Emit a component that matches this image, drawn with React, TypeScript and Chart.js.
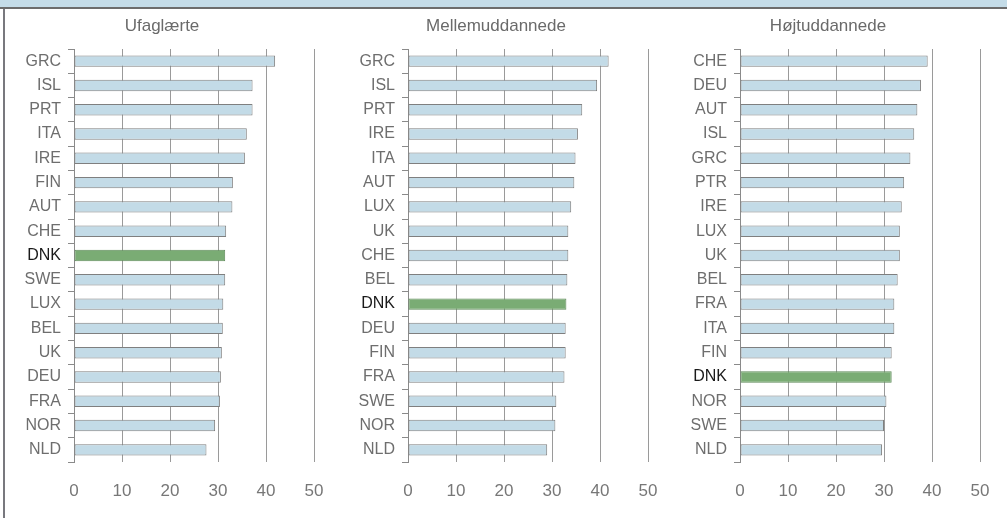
import React, { useEffect, useRef } from "react";
import { Chart, registerables } from "chart.js";

Chart.register(...registerables);

const titles = ["Ufaglærte", "Mellemuddannede", "Højtuddannede"];

const catsUfaglaerte = ["GRC", "ISL", "PRT", "ITA", "IRE", "FIN", "AUT", "CHE", "DNK", "SWE", "LUX", "BEL", "UK", "DEU", "FRA", "NOR", "NLD"];
const valsUfaglaerte = [41.9, 37.2, 37.2, 36.0, 35.6, 33.1, 33.0, 31.7, 31.5, 31.5, 31.1, 31.0, 30.8, 30.6, 30.4, 29.4, 27.6];

const catsMellem = ["GRC", "ISL", "PRT", "IRE", "ITA", "AUT", "LUX", "UK", "CHE", "BEL", "DNK", "DEU", "FIN", "FRA", "SWE", "NOR", "NLD"];
const valsMellem = [41.8, 39.4, 36.3, 35.4, 34.9, 34.65, 34.0, 33.4, 33.4, 33.2, 33.0, 32.85, 32.85, 32.6, 30.9, 30.7, 29.0];

const catsHoej = ["CHE", "DEU", "AUT", "ISL", "GRC", "PTR", "IRE", "LUX", "UK", "BEL", "FRA", "ITA", "FIN", "DNK", "NOR", "SWE", "NLD"];
const valsHoej = [39.1, 37.7, 36.95, 36.3, 35.5, 34.2, 33.7, 33.3, 33.3, 32.85, 32.15, 32.15, 31.6, 31.6, 30.5, 30.0, 29.6];

const xTicks = [0, 10, 20, 30, 40, 50];
const highlight = "DNK";

const FONT = "'Liberation Sans', Arial, sans-serif";

type PanelProps = { title: string; cats: string[]; vals: number[]; left: number; width: number };

function Panel({ title, cats, vals, left, width }: PanelProps) {
  const ref = useRef<HTMLCanvasElement>(null);
  useEffect(() => {
    if (!ref.current) return;
    const yW = 64;
    const padRight = width - yW - 240;
    const chart = new Chart(ref.current, {
      type: "bar",
      data: {
        labels: cats,
        datasets: [
          {
            data: vals,
            backgroundColor: cats.map((c) => (c === highlight ? "#7aac74" : "#c3dbe7")),
            borderColor: cats.map((c) => (c === highlight ? "#5f8a5a" : "#7f7f7f")),
            borderWidth: 1,
            borderSkipped: false,
            barPercentage: 0.47,
            categoryPercentage: 1,
          },
        ],
      },
      options: {
        indexAxis: "y",
        animation: false,
        responsive: false,
        maintainAspectRatio: false,
        layout: { padding: { left: 0, right: padRight, top: 0, bottom: 0 } },
        plugins: {
          legend: { display: false },
          tooltip: { enabled: false },
          title: {
            display: true,
            text: title,
            color: "#6a6a6a",
            font: { family: FONT, size: 17, weight: "normal" },
            padding: { top: 6.3, bottom: 12.3 },
          },
        },
        scales: {
          x: {
            type: "linear",
            min: xTicks[0],
            max: xTicks[xTicks.length - 1],
            afterFit: (s: any) => {
              s.height = 56;
            },
            afterBuildTicks: (s: any) => {
              s.ticks = xTicks.map((v) => ({ value: v }));
            },
            ticks: {
              stepSize: 10,
              color: "#777777",
              font: { family: FONT, size: 17 },
              padding: 19.5,
              maxRotation: 0,
            },
            grid: { color: "#9a9a9a", lineWidth: 1, drawTicks: false },
            border: { display: false },
          },
          y: {
            type: "category",
            afterFit: (s: any) => {
              s.width = yW;
            },
            ticks: {
              color: (ctx: any) => (ctx.tick && ctx.tick.label === highlight ? "#1a1a1a" : "#6e6e6e"),
              font: { family: FONT, size: 16 },
              padding: 7,
              autoSkip: false,
            },
            grid: { drawOnChartArea: false, drawTicks: true, tickLength: 6, color: "#8a8a8a", offset: true },
            border: { display: true, color: "#8a8a8a", width: 1 },
          },
        },
      },
    } as any);
    return () => chart.destroy();
  }, []);
  return (
    <canvas
      ref={ref}
      width={width}
      height={508}
      style={{ position: "absolute", left, top: 10, width, height: 508 }}
    />
  );
}

export default function App() {
  useEffect(() => {
    document.body.style.margin = "0";
  }, []);
  return (
    <div style={{ position: "absolute", left: 0, top: 0, width: 1007, height: 518, overflow: "hidden", background: "#ffffff" }}>
      <div style={{ position: "absolute", left: 0, top: 0, width: 1007, height: 7, background: "#c4dce8" }} />
      <div style={{ position: "absolute", left: 0, top: 7, width: 1007, height: 2, background: "#6c6c6c" }} />
      <div style={{ position: "absolute", left: 3, top: 9, width: 2, height: 509, background: "#78787e" }} />
      <Panel title={titles[0]} cats={catsUfaglaerte} vals={valsUfaglaerte} left={10} width={344} />
      <Panel title={titles[1]} cats={catsMellem} vals={valsMellem} left={344} width={340} />
      <Panel title={titles[2]} cats={catsHoej} vals={valsHoej} left={676} width={338} />
    </div>
  );
}
